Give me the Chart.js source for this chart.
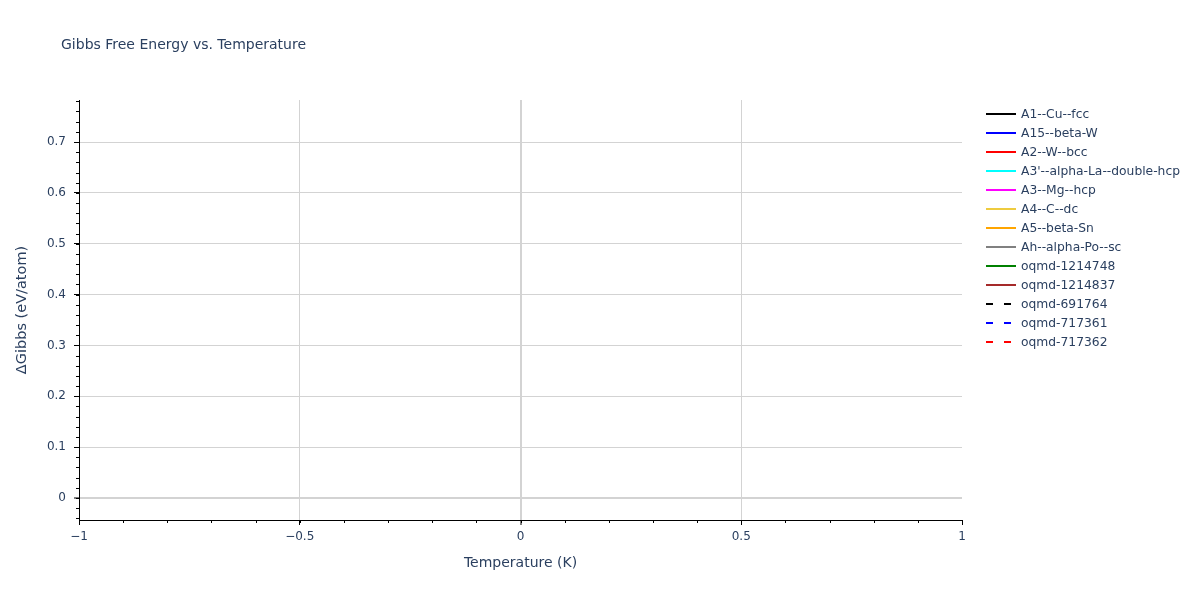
<!DOCTYPE html>
<html>
<head>
<meta charset="utf-8">
<script src="https://cdn.jsdelivr.net/npm/chart.js@4.4.1/dist/chart.umd.min.js"></script>
<style>
html,body{margin:0;padding:0;background:#fff;}
#wrap{width:1200px;height:600px;position:relative;}
</style>
</head>
<body>
<div id="wrap"><canvas id="c" width="1200" height="600"></canvas></div>
<script>
// ---- data ----
const chartTitle = "Gibbs Free Energy vs. Temperature";
const xTitle = "Temperature (K)";
const yTitle = "\u0394Gibbs (eV/atom)";
const temperatures = [0];
const seriesNames = ["A1--Cu--fcc","A15--beta-W","A2--W--bcc","A3'--alpha-La--double-hcp","A3--Mg--hcp","A4--C--dc","A5--beta-Sn","Ah--alpha-Po--sc","oqmd-1214748","oqmd-1214837","oqmd-691764","oqmd-717361","oqmd-717362"];
const seriesColors = ["#000000","#0000ff","#ff0000","#00ffff","#ff00ff","#eecb3f","#ffa500","#808080","#008000","#a52a2a","#000000","#0000ff","#ff0000"];
const seriesDashed = [false,false,false,false,false,false,false,false,false,false,true,true,true];
// single-point series (T = 0 K), one ΔG value each (not visible as lines)
const seriesValues = [[0.0],[0.12],[0.05],[0.02],[0.01],[0.739],[0.35],[0.3],[0.18],[0.2],[0.0],[0.1],[0.15]];
const xMin = -1, xMax = 1, yMin = -0.0433, yMax = 0.7826;
const xMajor = [-1,-0.5,0,0.5,1];
const yMajor = [0,0.1,0.2,0.3,0.4,0.5,0.6,0.7];

const FONT = "'DejaVu Sans', Verdana, sans-serif";
const TXT = "#2a3f5f";
const GRID = "#d3d3d3";

function fmt(v){ const s = String(Math.round(v*1000)/1000); return s.replace('-', '\u2212'); }

const datasets = seriesNames.map((n,i)=>({
  label:n,
  data: temperatures.map((t,j)=>({x:t,y:seriesValues[i][j]})),
  borderColor: seriesColors[i],
  backgroundColor: seriesColors[i],
  borderWidth:2,
  borderDash: seriesDashed[i] ? [6,6] : [],
  pointRadius:0,
  showLine:true
}));

const decor = {
  id:'decor',
  afterDraw(chart){
    const ctx = chart.ctx;
    const xs = chart.scales.x, ys = chart.scales.y;
    const ca = chart.chartArea;
    ctx.save();
    // minor ticks
    ctx.strokeStyle = '#000'; ctx.lineWidth = 1;
    for (let k=-2;k<=39;k++){
      const v = k*0.02;
      if (v < yMin || v > yMax) continue;
      const y = Math.round(ys.getPixelForValue(v))+0.5;
      ctx.beginPath(); ctx.moveTo(ca.left-3,y); ctx.lineTo(ca.left,y); ctx.stroke();
    }
    for (let k=-10;k<=10;k++){
      const v = k*0.1;
      const x = Math.round(xs.getPixelForValue(v))+0.5;
      ctx.beginPath(); ctx.moveTo(x,ca.bottom); ctx.lineTo(x,ca.bottom+3); ctx.stroke();
    }
    // title
    ctx.fillStyle = TXT;
    ctx.font = "14px " + FONT;
    ctx.textBaseline = 'middle'; ctx.textAlign = 'left';
    ctx.fillText(chartTitle, 61, 45);
    // legend
    ctx.font = "12.3px " + FONT;
    seriesNames.forEach((n,i)=>{
      const y = 114 + i*19;
      ctx.strokeStyle = seriesColors[i]; ctx.lineWidth = 2;
      ctx.setLineDash(seriesDashed[i] ? [7,11] : []);
      ctx.beginPath(); ctx.moveTo(986,y); ctx.lineTo(1016,y); ctx.stroke();
      ctx.setLineDash([]);
      ctx.fillStyle = TXT;
      ctx.fillText(n, 1021, y+1);
    });
    ctx.restore();
  }
};

new Chart(document.getElementById('c'), {
  type:'scatter',
  data:{datasets},
  options:{
    responsive:false,
    animation:false,
    devicePixelRatio:1,
    layout:{padding:{top:100,right:238,left:0,bottom:0}},
    plugins:{legend:{display:false},title:{display:false},tooltip:{enabled:false}},
    scales:{
      x:{
        type:'linear', min:xMin, max:xMax,
        afterBuildTicks(s){ s.ticks = xMajor.map(v=>({value:v})); },
        afterFit(s){ s.height = 80; },
        border:{display:true,color:'#000',width:1},
        grid:{
          color:(c)=> (c.tick && (c.tick.value===-1||c.tick.value===1)) ? 'rgba(0,0,0,0)' : GRID,
          lineWidth:(c)=> (c.tick && c.tick.value===0) ? 2 : 1,
          drawTicks:true, tickLength:5, tickColor:'#000', tickWidth:1
        },
        ticks:{color:TXT,font:{family:FONT,size:12},padding:5,maxRotation:0,callback:(v)=>fmt(v)},
        title:{display:true,text:xTitle,color:TXT,font:{family:FONT,size:14},padding:{top:0,bottom:28}}
      },
      y:{
        type:'linear', min:yMin, max:yMax,
        afterBuildTicks(s){ s.ticks = yMajor.map(v=>({value:v})); },
        afterFit(s){ s.width = 79; },
        border:{display:true,color:'#000',width:1},
        grid:{
          color:GRID,
          lineWidth:(c)=> (c.tick && c.tick.value===0) ? 2 : 1,
          drawTicks:true, tickLength:5, tickColor:'#000', tickWidth:1
        },
        ticks:{color:TXT,font:{family:FONT,size:12},padding:8,callback:(v)=>fmt(v)},
        title:{display:true,text:yTitle,color:TXT,font:{family:FONT,size:14.5},padding:{top:13.3,bottom:0}}
      }
    }
  },
  plugins:[decor]
});
</script>
</body>
</html>
